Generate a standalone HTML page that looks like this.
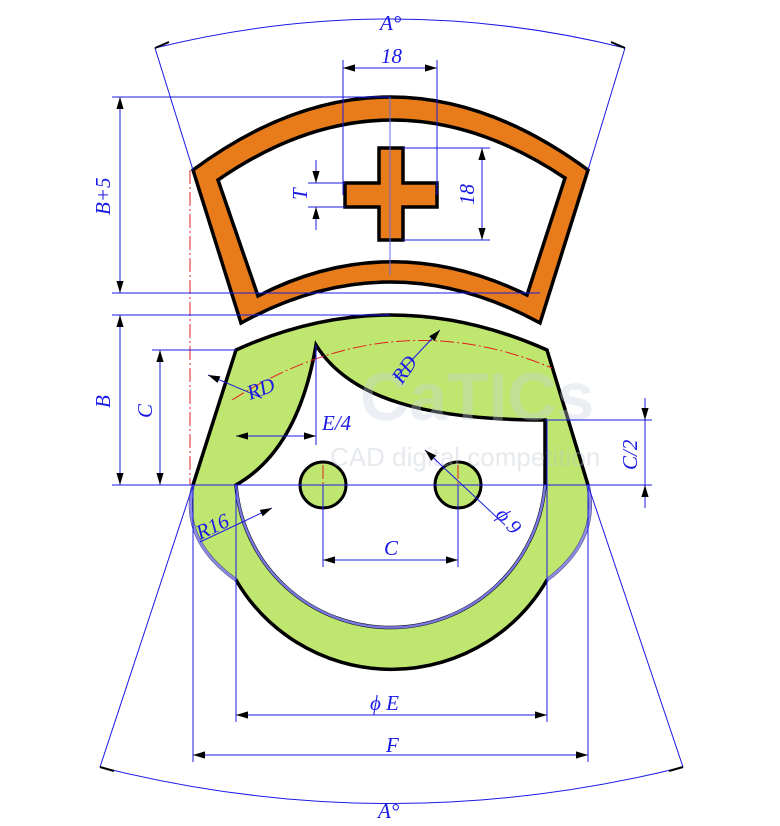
<!DOCTYPE html>
<html><head><meta charset="utf-8"><style>
html,body{margin:0;padding:0;background:#fff;}
svg{display:block}
text{font-family:"Liberation Serif",serif;font-style:italic;fill:#1a1ae6;font-size:21px}
</style></head><body>
<svg width="780" height="826" viewBox="0 0 780 826" xmlns="http://www.w3.org/2000/svg">
<defs>
<marker id="a" viewBox="0 0 10 10" refX="10" refY="5" markerWidth="12" markerHeight="12" markerUnits="userSpaceOnUse" orient="auto-start-reverse"><path d="M0,2 L10,5 L0,8 z" fill="#000"/></marker>
</defs>

<!-- orange cap -->
<path fill-rule="evenodd" fill="#e87c1a" stroke="#000" stroke-width="3.5"
 d="M193,170 Q390,24 588,170 L540,323 Q390,241 241,323 Z
    M218,180 Q390,61 565,178 L527,295 Q390,228 258,296 Z"/>
<path d="M379,148 h24 v35 h34 v24 h-34 v33 h-24 v-33 h-34 v-24 h34 z" fill="#e87c1a" stroke="#000" stroke-width="3.5"/>
<line x1="390" y1="97" x2="390" y2="275" stroke="#6a6ae0" stroke-width="1"/>

<!-- green face -->
<path fill="#bfe66e" stroke="#000" stroke-width="3.5"
 d="M236,350 Q390,280 547,350 L588,485 Q600,540 547,580 A180,180 0 0 1 236,580 Q180,540 193,485 Z"/>
<path fill="#fff" stroke="#000" stroke-width="3.5"
 d="M316,345 C305,410 280,460 236,485 A155,155 0 0 0 545,485 L545,420 C430,420 350,400 316,345 Z"/>
<path d="M236,485 A155,155 0 0 0 545,485" fill="none" stroke="#7878e0" stroke-width="2.5"/>
<path d="M193,485 Q180,540 236,580 M588,485 Q600,540 547,580" fill="none" stroke="#8a8ae6" stroke-width="3"/>
<circle cx="323" cy="485" r="23" fill="#bfe66e" stroke="#000" stroke-width="3"/>
<circle cx="458" cy="485" r="23" fill="#bfe66e" stroke="#000" stroke-width="3"/>

<!-- watermark -->
<g opacity="0.35">
<text x="360" y="420" style="font-style:normal;font-family:'Liberation Sans',sans-serif;font-size:68px;font-weight:bold;fill:#c8d4e0">CaTICs</text>
<text x="330" y="466" style="font-style:normal;font-family:'Liberation Sans',sans-serif;font-size:26px;fill:#b8c4d0">CAD digital competition</text>
</g>

<!-- red center lines -->
<g stroke="#e02020" stroke-width="1" fill="none" stroke-dasharray="14,3,2,3">
<line x1="236" y1="485" x2="545" y2="485"/>
<line x1="190" y1="170" x2="190" y2="485"/>
<path d="M232,400 Q390,300 552,368"/>
<line x1="323" y1="465" x2="323" y2="505"/><line x1="458" y1="465" x2="458" y2="505"/>
<line x1="300" y1="485" x2="346" y2="485"/>
</g>

<!-- blue dimension lines -->
<g stroke="#1a1ae6" stroke-width="1" fill="none">
<path d="M155,48 Q390,-10 625,48"/>
<path d="M100,767 Q390,840 683,767"/>
<line x1="155" y1="48" x2="193" y2="170"/><line x1="625" y1="48" x2="588" y2="170"/>
<line x1="100" y1="767" x2="193" y2="485"/><line x1="683" y1="767" x2="588" y2="485"/>
<line x1="112" y1="97" x2="390" y2="97"/><line x1="112" y1="293" x2="540" y2="293"/>
<line x1="112" y1="315" x2="390" y2="315"/><line x1="112" y1="485" x2="652" y2="485"/>
<line x1="152" y1="350" x2="236" y2="350"/>
<line x1="545" y1="420" x2="652" y2="420"/>
<line x1="343" y1="60" x2="343" y2="195"/><line x1="437" y1="60" x2="437" y2="195"/>
<line x1="403" y1="148" x2="490" y2="148"/><line x1="403" y1="240" x2="490" y2="240"/>
<line x1="308" y1="183" x2="345" y2="183"/><line x1="308" y1="207" x2="345" y2="207"/>
<line x1="316" y1="345" x2="316" y2="445"/>
<line x1="323" y1="485" x2="323" y2="567"/><line x1="458" y1="485" x2="458" y2="567"/>
<line x1="236" y1="485" x2="236" y2="722"/><line x1="547" y1="420" x2="547" y2="722"/>
<line x1="193" y1="485" x2="193" y2="762"/><line x1="588" y1="485" x2="588" y2="762"/>
<line x1="120" y1="97" x2="120" y2="293" marker-start="url(#a)" marker-end="url(#a)"/>
<line x1="120" y1="315" x2="120" y2="485" marker-start="url(#a)" marker-end="url(#a)"/>
<line x1="160" y1="350" x2="160" y2="485" marker-start="url(#a)" marker-end="url(#a)"/>
<line x1="645" y1="398" x2="645" y2="420" marker-end="url(#a)"/>
<line x1="645" y1="508" x2="645" y2="485" marker-end="url(#a)"/>
<line x1="645" y1="420" x2="645" y2="485"/>
<line x1="343" y1="68" x2="437" y2="68" marker-start="url(#a)" marker-end="url(#a)"/>
<line x1="482" y1="148" x2="482" y2="240" marker-start="url(#a)" marker-end="url(#a)"/>
<line x1="316" y1="160" x2="316" y2="183" marker-end="url(#a)"/>
<line x1="316" y1="230" x2="316" y2="207" marker-end="url(#a)"/>
<line x1="236" y1="436" x2="316" y2="436" marker-start="url(#a)" marker-end="url(#a)"/>
<line x1="323" y1="560" x2="458" y2="560" marker-start="url(#a)" marker-end="url(#a)"/>
<line x1="236" y1="715" x2="547" y2="715" marker-start="url(#a)" marker-end="url(#a)"/>
<line x1="193" y1="755" x2="588" y2="755" marker-start="url(#a)" marker-end="url(#a)"/>
<line x1="425" y1="450" x2="505" y2="525" marker-start="url(#a)"/>
<line x1="272" y1="508" x2="200" y2="542" marker-start="url(#a)"/>
<line x1="208" y1="375" x2="262" y2="398" marker-start="url(#a)"/>
<line x1="395" y1="378" x2="440" y2="330" marker-end="url(#a)"/>
</g>
<path d="M155,48 l14,-6 M625,48 l-14,-6 M100,767 l14,4 M683,767 l-14,4" stroke="#000" stroke-width="2"/>

<!-- labels -->
<text x="380" y="30">A°</text>
<text x="378" y="818">A°</text>
<text x="381" y="63">18</text>
<text transform="translate(110,215) rotate(-90)">B+5</text>
<text transform="translate(110,408) rotate(-90)">B</text>
<text transform="translate(152,418) rotate(-90)">C</text>
<text transform="translate(637,470) rotate(-90)">C/2</text>
<text transform="translate(474,205) rotate(-90)">18</text>
<text transform="translate(307,200) rotate(-90)">T</text>
<text x="322" y="430">E/4</text>
<text x="250" y="400" transform="rotate(-20 250 400)">RD</text>
<text transform="translate(402,385) rotate(-55)">RD</text>
<text x="384" y="555">C</text>
<text x="370" y="710">ϕ E</text>
<text x="386" y="752">F</text>
<text transform="translate(495,515) rotate(50)">ϕ 9</text>
<text x="200" y="540" transform="rotate(-25 200 540)">R16</text>
</svg>
</body></html>
